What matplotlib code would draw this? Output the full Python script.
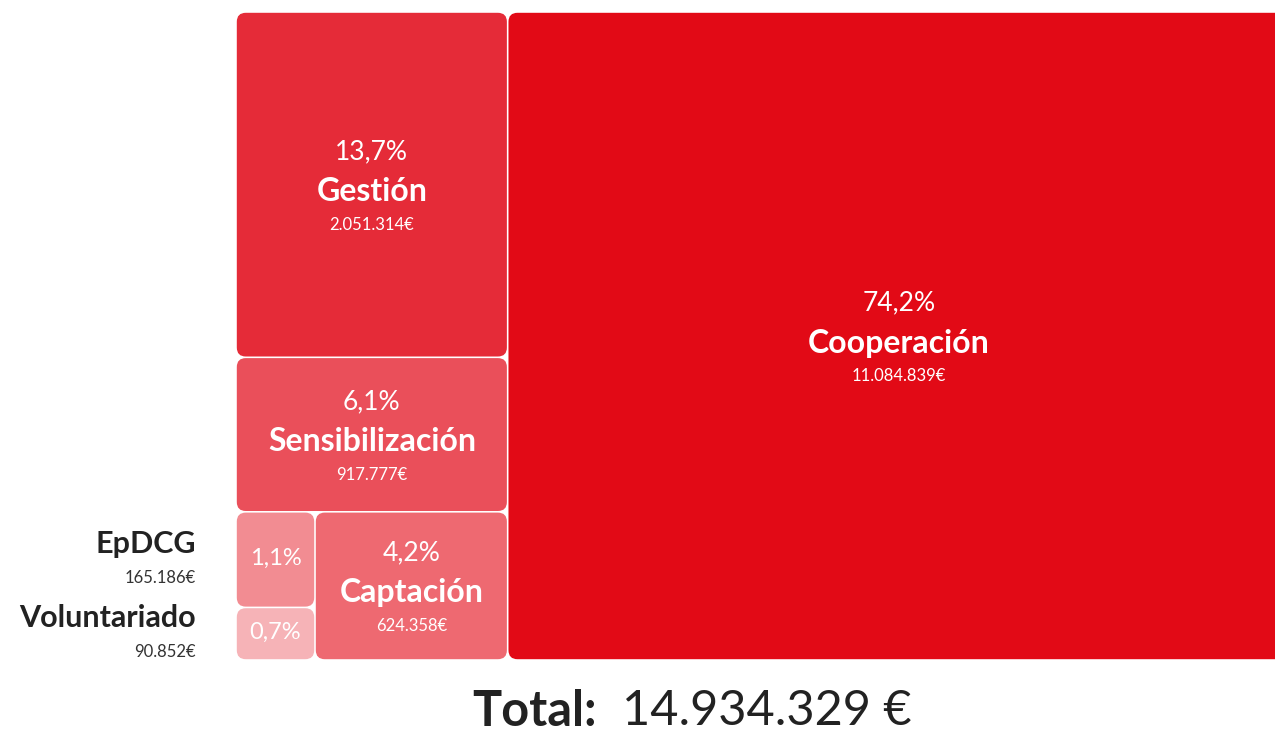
import matplotlib
matplotlib.use("Agg")
import matplotlib.pyplot as plt
from matplotlib.patches import FancyBboxPatch

plt.rcParams['font.family'] = ['Lato', 'DejaVu Sans']

# data
names = ['Cooperación', 'Gestión', 'Sensibilización', 'Captación', 'EpDCG', 'Voluntariado']
values = [11084839, 2051314, 917777, 624358, 165186, 90852]
pct_labels = ['74,2%', '13,7%', '6,1%', '4,2%', '1,1%', '0,7%']
colors = ['#E20A16', '#E52B38', '#EA4F5A', '#EE6971', '#F28C92', '#F6B3B7']
total = 14934329

# nesting of the tiles: (direction, children), 'h' = side by side, 'v' = stacked
tree = ('h', [('v', ['Gestión', 'Sensibilización',
                     ('h', [('v', ['EpDCG', 'Voluntariado']), 'Captación'])]),
              'Cooperación'])

val = dict(zip(names, values))


def node_sum(node):
    if isinstance(node, str):
        return val[node]
    return sum(node_sum(c) for c in node[1])


def layout(node, x, y, w, h, out):
    if isinstance(node, str):
        out[node] = (x, y, w, h)
        return
    direction, children = node
    s = node_sum(node)
    for c in children:
        f = node_sum(c) / s
        if direction == 'h':
            layout(c, x, y, w * f, h, out)
            x += w * f
        else:
            layout(c, x, y, w, h * f, out)
            y += h * f


def fmt(v):
    return f"{v:,}".replace(",", ".")


rects = {}
layout(tree, 236, 12, 1054, 648, rects)

fig = plt.figure(figsize=(12.75, 7.36), dpi=100)
ax = fig.add_axes([0, 0, 1, 1])
ax.set_xlim(0, 1275)
ax.set_ylim(736, 0)
ax.axis('off')

gap = 0.8
for name, pct, col in zip(names, pct_labels, colors):
    x, y, w, h = rects[name]
    ax.add_patch(FancyBboxPatch((x + gap, y + gap), w - 2 * gap, h - 2 * gap,
                                boxstyle="round,pad=0,rounding_size=9",
                                fc=col, ec='none'))
    cx, cy = x + w / 2, y + h / 2
    if w > 150:
        ax.text(cx, cy - 33, pct, color='white', fontsize=19,
                ha='center', va='center')
        ax.text(cx, cy + 7, name, color='white', fontsize=23,
                fontweight='bold', ha='center', va='center')
        ax.text(cx, cy + 40, fmt(values[names.index(name)]) + '€', color='white',
                fontsize=12, ha='center', va='center')
    else:
        ax.text(cx, cy - 1, pct, color='white', fontsize=17,
                ha='center', va='center')
        ax.text(196, cy - 16, name, color='#222222', fontsize=22,
                fontweight='bold', ha='right', va='center')
        ax.text(196, cy + 18, fmt(values[names.index(name)]) + '€', color='#333333',
                fontsize=12, ha='right', va='center')

ax.text(597, 711, 'Total:', color='#222222', fontsize=35, fontweight='bold',
        ha='right', va='center')
ax.text(622, 711, fmt(total) + ' €', color='#222222', fontsize=35,
        ha='left', va='center')

fig.savefig('out.png', dpi=100)
